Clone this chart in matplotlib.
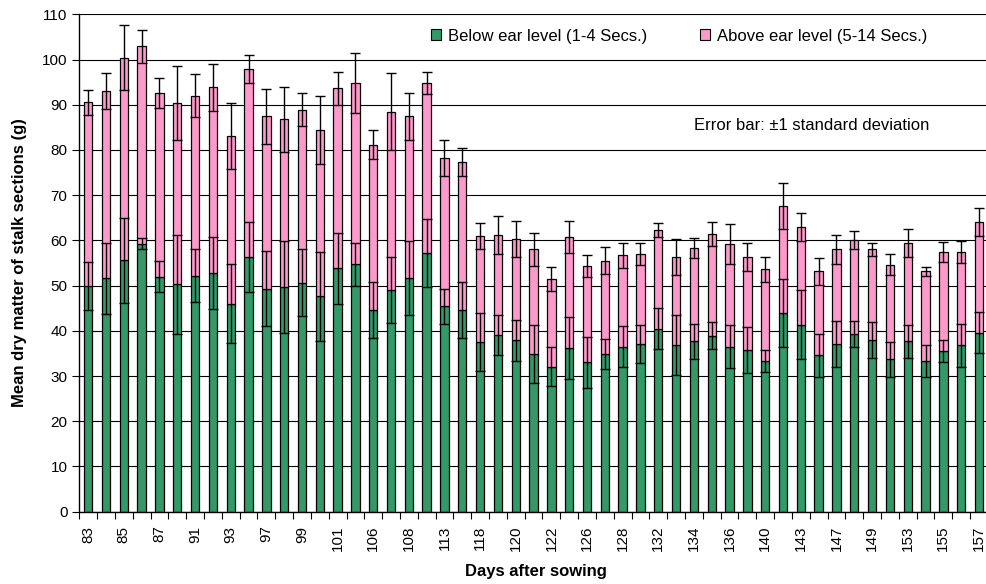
import numpy as np
import matplotlib

matplotlib.use("Agg")
import matplotlib.pyplot as plt
from matplotlib.patches import Patch

plt.rcParams["font.family"] = ["Liberation Sans", "DejaVu Sans"]

# day labels (only every other bar is labelled on the axis)
day_labels = [
    "83", "", "85", "", "87", "", "91", "", "93", "", "97", "", "99", "",
    "101", "", "106", "", "108", "", "113", "", "118", "", "120", "", "122", "",
    "126", "", "128", "", "132", "", "134", "", "136", "", "140", "", "143", "",
    "147", "", "149", "", "153", "", "155", "", "157",
]

# mean dry matter below ear level (sections 1-4), g
below = [
    50, 51.6, 55.6, 59.3, 52, 50.3, 52.2, 52.8, 46, 56.3,
    49.3, 49.7, 50.6, 47.6, 53.8, 54.7, 44.7, 49, 51.6, 57.2,
    45.4, 44.7, 37.6, 39.1, 37.9, 34.9, 32.1, 36.2, 33, 34.9,
    36.5, 37.1, 40.5, 36.8, 37.7, 38.9, 36.5, 35.8, 33.4, 44,
    41.4, 34.6, 37.1, 39.3, 38, 33.7, 37.7, 33.3, 35.5, 36.8, 39.6,
]
# mean dry matter above ear level (sections 5-14), g
above = [
    40.5, 41.4, 44.8, 43.6, 40.6, 40.1, 39.8, 41.1, 37, 41.6,
    38.1, 37.1, 38.3, 36.9, 39.8, 40.1, 36.5, 39.5, 35.8, 37.6,
    32.9, 32.7, 23.3, 22.1, 22.4, 23.1, 19.3, 24.6, 21.3, 20.6,
    20.2, 19.9, 21.8, 19.6, 20.6, 22.5, 22.7, 20.6, 20.2, 23.6,
    21.5, 18.6, 20.9, 20.8, 20, 20.9, 21.8, 19.9, 21.9, 20.6, 24.4,
]
# standard deviations
sd_below = [
    5.3, 7.8, 9.4, 1.2, 3.4, 11, 5.8, 8, 8.8, 7.8,
    8.3, 10.1, 7.4, 9.8, 7.9, 4.7, 6.2, 7.3, 8.2, 7.6,
    3.9, 6.2, 6.4, 4.5, 4.5, 6.4, 4.4, 6.8, 5.7, 3.4,
    4.5, 4.3, 4.5, 6.6, 3.9, 3, 4.8, 5.1, 2.4, 7.5,
    7.6, 4.7, 5, 2.8, 4, 3.9, 3.7, 3.6, 2.5, 4.8, 4.5,
]
sd_above = [
    2.8, 4, 7.2, 3.6, 3.4, 8.2, 4.8, 5.2, 7.3, 3.1,
    6.1, 7.2, 3.6, 7.5, 3.6, 6.7, 3.3, 8.5, 5.3, 2.5,
    4, 3.1, 2.9, 4.2, 3.9, 3.7, 2.7, 3.5, 2.4, 3,
    2.7, 2.5, 1.5, 4, 2.3, 2.6, 4.5, 3.1, 2.7, 5.1,
    3.1, 3, 3.3, 2, 1.5, 2.3, 3.1, 1, 2.2, 2.5, 3.1,
]

green = "#339966"
pink = "#ff99cc"

fig = plt.figure(figsize=(9.86, 5.84), dpi=100)
ax = fig.add_axes([0.0804, 0.1238, 0.9215, 0.8517])

x = np.arange(len(below))
below = np.array(below)
above = np.array(above)
total = below + above

ax.bar(x, below, width=0.47, color=green, edgecolor="black", linewidth=0.9, zorder=2)
ax.bar(x, above, width=0.47, bottom=below, color=pink, edgecolor="black", linewidth=0.9, zorder=2)

ax.errorbar(x, below, yerr=sd_below, fmt="none", ecolor="black", elinewidth=1,
            capsize=3.4, capthick=1, zorder=3)
ax.errorbar(x, total, yerr=sd_above, fmt="none", ecolor="black", elinewidth=1,
            capsize=3.4, capthick=1, zorder=3)

ax.set_xlim(-0.5, len(below) - 0.5)
ax.set_ylim(0, 110)
ax.set_yticks(np.arange(0, 111, 10))
ax.yaxis.grid(True, color="black", linewidth=0.8)
ax.set_axisbelow(True)

ax.set_xticks(x)
ax.set_xticklabels(day_labels, rotation=90)
ax.tick_params(axis="x", length=0, pad=10, labelsize=11)
ax.set_xticks(np.arange(-0.5, len(below), 1), minor=True)
ax.tick_params(axis="x", which="minor", length=5, width=0.8, direction="out")
ax.tick_params(axis="y", length=5, width=0.8, labelsize=11, direction="out")

for side in ["top", "right"]:
    ax.spines[side].set_visible(False)
ax.spines["left"].set_linewidth(1)
ax.spines["bottom"].set_linewidth(1)

ax.set_ylabel("Mean dry matter of stalk sections (g)", fontsize=12, fontweight="bold")
ax.yaxis.set_label_coords(-0.057, 0.5)
ax.set_xlabel("Days after sowing", fontsize=12, fontweight="bold")
ax.xaxis.set_label_coords(0.5025, -0.106)

handles = [
    Patch(facecolor=green, edgecolor="black", linewidth=0.8, label="Below ear level (1-4 Secs.)"),
    Patch(facecolor=pink, edgecolor="black", linewidth=0.8, label="Above ear level (5-14 Secs.)"),
]
ax.legend(handles=handles, ncol=2, frameon=False, fontsize=12, loc="center left",
          bbox_to_anchor=(0.387, 0.956), borderaxespad=0, borderpad=0,
          handlelength=0.62, handleheight=0.62, handletextpad=0.38, columnspacing=3.2)

ax.text(34.0, 85.3, "Error bar: \u00b11 standard deviation", fontsize=12, va="center", ha="left")

plt.savefig("out.png", dpi=100)
